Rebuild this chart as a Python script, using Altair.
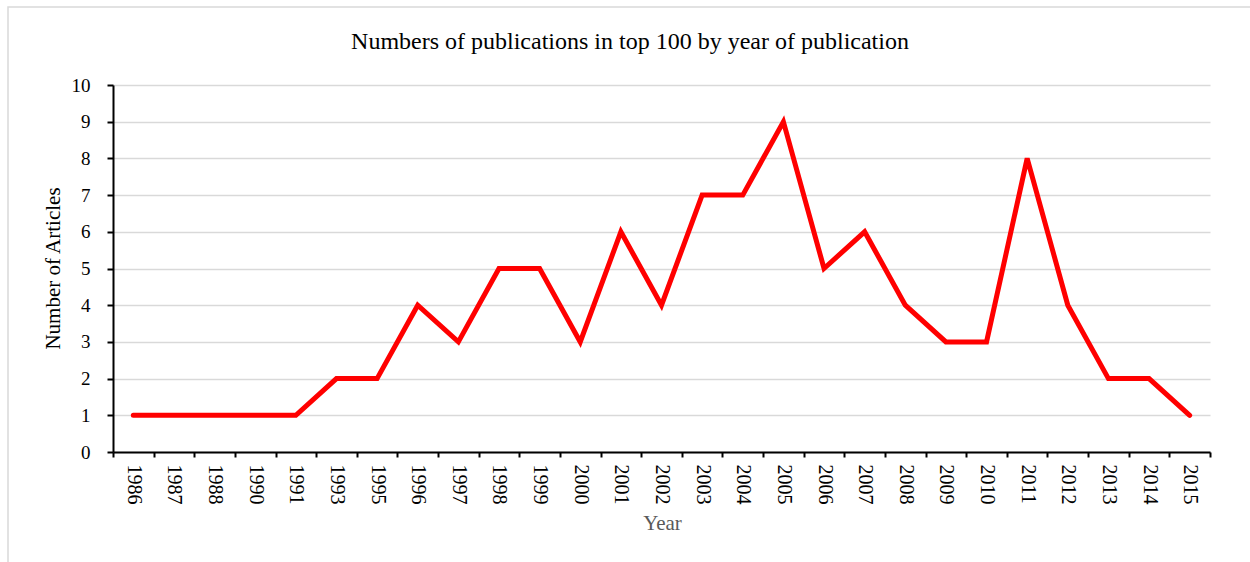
import altair as alt
import pandas as pd

years = ["1986", "1987", "1988", "1990", "1991", "1993", "1995", "1996", "1997",
         "1998", "1999", "2000", "2001", "2002", "2003", "2004", "2005", "2006",
         "2007", "2008", "2009", "2010", "2011", "2012", "2013", "2014", "2015"]
articles = [1, 1, 1, 1, 1, 2, 2, 4, 3, 5, 5, 3, 6, 4, 7, 7, 9, 5, 6, 4, 3, 3, 8, 4, 2, 2, 1]
title_text = "Numbers of publications in top 100 by year of publication"

df = pd.DataFrame({"Year": years, "Articles": articles})

FONT = "Liberation Serif"

x_enc = alt.X(
    "Year:N",
    sort=years,
    bandPosition=0.5,
    scale=alt.Scale(type="band", paddingInner=0, paddingOuter=0),
    axis=alt.Axis(
        title="Year",
        titleColor="#595959",
        titleFont=FONT,
        titleFontSize=21,
        titleFontWeight="normal",
        titleX=549,
        titleY=71,
        titleBaseline="middle",
        titleAlign="center",
        labelAngle=90,
        labelFont=FONT,
        labelFontSize=20,
        labelColor="#000000",
        labelPadding=7,
        tickBand="extent",
        tickSize=5,
        tickWidth=2,
        tickColor="#000000",
        domainColor="#000000",
        domainWidth=2,
        grid=False,
    ),
)

y_enc = alt.Y(
    "Articles:Q",
    scale=alt.Scale(domain=[0, 10], nice=False),
    axis=alt.Axis(
        title="Number of Articles",
        titleColor="#000000",
        titleFont=FONT,
        titleFontSize=21,
        titleFontWeight="normal",
        titleX=-60,
        titleY=183,
        titleAngle=270,
        titleAlign="center",
        titleBaseline="middle",
        values=list(range(0, 11)),
        labelFont=FONT,
        labelFontSize=19,
        labelColor="#000000",
        labelPadding=17,
        tickSize=6,
        tickWidth=2,
        tickColor="#000000",
        domainColor="#000000",
        domainWidth=2,
        grid=True,
        gridColor="#d9d9d9",
        gridWidth=1.5,
    ),
)

base = alt.Chart(pd.DataFrame({"label": [title_text]}))

# outer frame around the whole figure
frame = base.mark_rect(
    fill=None, stroke="#d9d9d9", strokeWidth=1.5, clip=False
).encode(
    x=alt.value(-105), x2=alt.value(1160), y=alt.value(-78), y2=alt.value(500)
)

# chart heading, centred over the figure
heading = base.mark_text(
    font=FONT, fontSize=24, color="#000000", align="center", baseline="middle"
).encode(
    x=alt.value(517), y=alt.value(-43), text="label:N"
)

line = alt.Chart(df).mark_line(
    color="#ff0000", strokeWidth=5, strokeCap="round", strokeJoin="miter"
).encode(x=x_enc, y=y_enc)

chart = alt.layer(frame, heading, line).properties(
    width=1097,
    height=367,
    padding={"left": 113, "top": 85, "right": 40, "bottom": 110},
    autosize=alt.AutoSizeParams(type="none"),
).configure_view(stroke=None)

chart.save("out.html", embed_options={"renderer": "svg", "actions": False})
